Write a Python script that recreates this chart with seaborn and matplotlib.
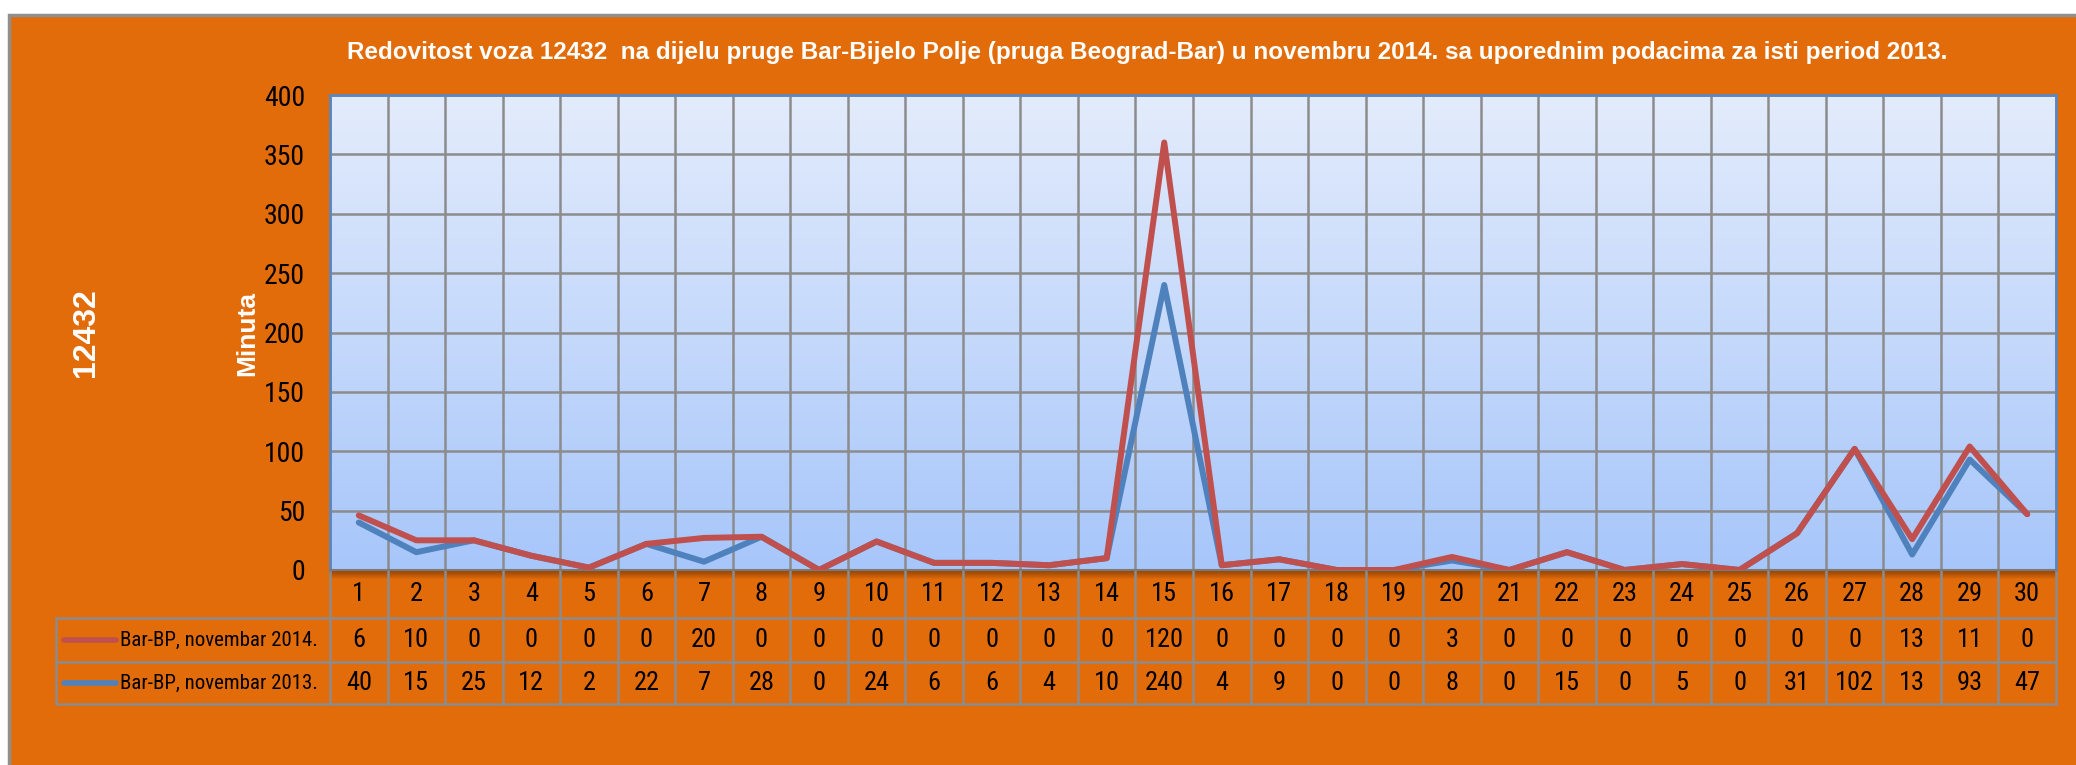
import os
import numpy as np
import pandas as pd
import matplotlib
matplotlib.use("Agg")
import matplotlib.pyplot as plt
import seaborn as sns
from matplotlib import font_manager as fm
from matplotlib.colors import LinearSegmentedColormap
from matplotlib.patches import Rectangle
from matplotlib.lines import Line2D
from matplotlib.transforms import blended_transform_factory

# ---------------- data ----------------
days = list(range(1, 31))
delay_2014 = [6, 10, 0, 0, 0, 0, 20, 0, 0, 0, 0, 0, 0, 0, 120,
              0, 0, 0, 0, 3, 0, 0, 0, 0, 0, 0, 0, 13, 11, 0]
delay_2013 = [40, 15, 25, 12, 2, 22, 7, 28, 0, 24, 6, 6, 4, 10, 240,
              4, 9, 0, 0, 8, 0, 15, 0, 5, 0, 31, 102, 13, 93, 47]
series_2014 = "Bar-BP, novembar 2014."
series_2013 = "Bar-BP, novembar 2013."
y_ticks = [0, 50, 100, 150, 200, 250, 300, 350, 400]
title = ("Redovitost voza 12432  na dijelu pruge Bar-Bijelo Polje (pruga Beograd-Bar) "
         "u novembru 2014. sa uporednim podacima za isti period 2013.")
train_label = "12432"
y_label = "Minuta"

# ---------------- style ----------------
sns.set_theme(style="white")
plt.rcParams["font.family"] = ["Liberation Sans", "DejaVu Sans"]

ORANGE = "#E26B0A"
GRID = "#8C8C8C"
RED = "#C0504D"
BLUE = "#4F81BD"


def narrow_font():
    names = {f.name for f in fm.fontManager.ttflist}
    for p in ["Liberation Sans Narrow", "Roboto Condensed", "Open Sans Condensed",
              "Noto Sans Condensed"]:
        if p in names:
            return dict(family=p)
    for f in fm.fontManager.ttflist:
        if os.path.basename(f.fname) == "DejaVuSansCondensed.ttf":
            return dict(fname=f.fname)
    return dict(family="DejaVu Sans")


NF = narrow_font()


def nfp(size):
    return fm.FontProperties(size=size, **NF)


W, H = 2076, 765
fig = plt.figure(figsize=(W / 100, H / 100), dpi=100)
fig.patch.set_facecolor("white")
fig.patches.append(Rectangle((9 / W, -0.01), 1.0, 1.01 - 15 / H, transform=fig.transFigure,
                             facecolor=ORANGE, edgecolor="#8F8F8F", lw=2.5, zorder=-5))

ax_l, ax_r, ax_t, ax_b = 330, 2056, 95, 570
ax = fig.add_axes([ax_l / W, 1 - ax_b / H, (ax_r - ax_l) / W, (ax_b - ax_t) / H])
ax.set_zorder(2)

# gradient background of the plot area
cmap = LinearSegmentedColormap.from_list("bg", ["#E3ECFC", "#A7C6FA"])
ax.imshow(np.linspace(0, 1, 256).reshape(-1, 1), cmap=cmap, aspect="auto",
          extent=[0.5, 30.5, 0, 400], origin="upper", zorder=0)

# stacked line chart (2014 drawn on top of 2013)
stacked_2014 = [a + b for a, b in zip(delay_2013, delay_2014)]
df = pd.DataFrame({
    "day": days + days,
    "value": delay_2013 + stacked_2014,
    "series": [series_2013] * len(days) + [series_2014] * len(days),
})
sns.lineplot(data=df, x="day", y="value", hue="series",
             hue_order=[series_2013, series_2014],
             palette={series_2013: BLUE, series_2014: RED},
             linewidth=4.3, legend=False, ax=ax, sort=False,
             solid_capstyle="round", solid_joinstyle="round")
for ln in ax.lines:
    ln.set_zorder(3)

ax.set_xlim(0.5, 30.5)
ax.set_ylim(0, 400)
ax.set_xlabel("")
ax.set_ylabel("")
ax.set_yticks(y_ticks)
ax.set_yticklabels([str(v) for v in y_ticks])
for lab in ax.get_yticklabels():
    lab.set_fontproperties(nfp(20))
    lab.set_color("black")
ax.set_xticks(days)
ax.set_xticklabels([])
ax.set_xticks(np.arange(0.5, 31, 1), minor=True)
ax.tick_params(which="both", length=0)
ax.tick_params(axis="y", pad=18)
ax.grid(False)
ax.grid(which="minor", axis="x", color=GRID, lw=1.8, zorder=1)
ax.grid(which="major", axis="y", color=GRID, lw=1.8, zorder=1)
for side in ["top", "left", "right"]:
    ax.spines[side].set_color("#5B87C0")
    ax.spines[side].set_linewidth(2)
ax.spines["bottom"].set_color("#7A7A7A")
ax.spines["bottom"].set_linewidth(1.5)

# shadow under plot area
for i in range(8):
    ax.add_line(Line2D([0, 1], [-(i + 1) / 475, -(i + 1) / 475], transform=ax.transAxes,
                       color="#6B3204", alpha=0.45 * (1 - i / 8), lw=1.2, clip_on=False))

# ---------------- data table ----------------
bt = blended_transform_factory(ax.transData, ax.transAxes)
r1, r2, r3 = -48 / 475, -92 / 475, -134 / 475
leg_left = (56 - ax_l) / (ax_r - ax_l)

for xb in np.arange(0.5, 31, 1):
    ax.add_line(Line2D([xb, xb], [0, r3], transform=bt, color=GRID, lw=1.8, clip_on=False))
for yy in (r1, r2, r3):
    ax.add_line(Line2D([leg_left, 1], [yy, yy], transform=ax.transAxes, color=GRID,
                       lw=1.8, clip_on=False))
ax.add_line(Line2D([leg_left, leg_left], [r1, r3], transform=ax.transAxes, color=GRID,
                   lw=1.8, clip_on=False))

for d, v14, v13 in zip(days, delay_2014, delay_2013):
    ax.text(d, (0 + r1) / 2, str(d), transform=bt, ha="center", va="center",
            fontproperties=nfp(19), color="black", clip_on=False)
    ax.text(d, (r1 + r2) / 2, str(v14), transform=bt, ha="center", va="center",
            fontproperties=nfp(19), color="black", clip_on=False)
    ax.text(d, (r2 + r3) / 2, str(v13), transform=bt, ha="center", va="center",
            fontproperties=nfp(19), color="black", clip_on=False)

key_x0 = (64 - ax_l) / (ax_r - ax_l)
key_x1 = (116 - ax_l) / (ax_r - ax_l)
txt_x = (120 - ax_l) / (ax_r - ax_l)
for (yy, col, name) in (((r1 + r2) / 2, RED, series_2014), ((r2 + r3) / 2, BLUE, series_2013)):
    ax.add_line(Line2D([key_x0, key_x1], [yy, yy], transform=ax.transAxes, color=col,
                       lw=4, solid_capstyle="round", clip_on=False))
    ax.text(txt_x, yy, name, transform=ax.transAxes, ha="left", va="center",
            fontproperties=nfp(15), color="black", clip_on=False)

# ---------------- titles ----------------
fig.text(1147 / W, 1 - 53 / H, title, ha="center", va="center", color="white",
         fontsize=17.5, fontweight="bold")
fig.text(86 / W, 1 - 333 / H, train_label, ha="center", va="center", rotation=90,
         color="white", fontsize=23, fontweight="bold")
fig.text(247 / W, 1 - 333 / H, y_label, ha="center", va="center", rotation=90,
         color="white", fontsize=19, fontweight="bold")

fig.savefig("out.png", dpi=100)
